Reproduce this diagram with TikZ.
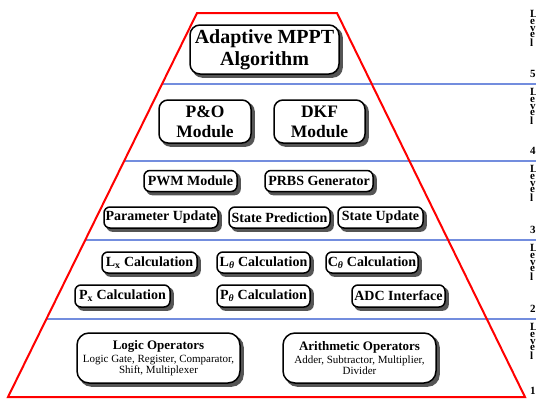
\documentclass[tikz,border=0pt]{standalone}
\usepackage{fontspec}
\setmainfont{Liberation Serif}
\usetikzlibrary{calc,backgrounds}
\definecolor{pyrred}{RGB}{255,0,0}
\definecolor{lvlblue}{RGB}{40,80,205}
\definecolor{shadowgray}{RGB}{85,85,85}
\tikzset{
  box/.style={draw=black, line width=1.5pt, fill=white, rounded corners=6pt,
    inner sep=1pt, align=center},
  smallbox/.style={box, font=\bfseries\fontsize{14}{15}\selectfont, minimum height=21pt},
  midbox/.style={box, rounded corners=9pt, font=\bfseries\fontsize{17.5}{20}\selectfont, minimum height=43pt},
  opbox/.style={box, rounded corners=12pt, minimum height=50pt, font=\fontsize{11}{10.5}\selectfont},
  boxshadow/.style={fill=shadowgray},
  lvl/.style={anchor=north west, inner sep=0pt, align=left, font=\bfseries\fontsize{11}{6.8}\selectfont},
  lvlnum/.style={anchor=base west, inner sep=0pt, font=\bfseries\fontsize{11}{11}\selectfont},
  bandline/.style={draw=lvlblue, line width=1.4pt},
  pyr/.style={draw=pyrred, line width=2pt}
}
\begin{document}
\begin{tikzpicture}[x=1pt,y=-1pt]
\useasboundingbox (0,0) rectangle (536,399);
% pyramid corners
\coordinate (T1) at (197,13);
\coordinate (T2) at (337,13);
\coordinate (T3) at (525,397);
\coordinate (T4) at (8,397);
% band line ends
\coordinate (E1) at (536,84);
\coordinate (E2) at (536,161);
\coordinate (E3) at (536,240);
\coordinate (E4) at (536,319);
\coordinate (S1) at ($(T1)!0.1849!(T4)$);
\coordinate (S2) at ($(T1)!0.3854!(T4)$);
\coordinate (S3) at ($(T1)!0.5911!(T4)$);
\coordinate (S4) at ($(T1)!0.7969!(T4)$);
\draw[bandline] (S1) -- (E1);
\draw[bandline] (S2) -- (E2);
\draw[bandline] (S3) -- (E3);
\draw[bandline] (S4) -- (E4);
\draw[pyr] (T1) -- (T2) -- (T3) -- (T4) -- cycle;

% Level 5
\node[box, rounded corners=10pt, font=\bfseries\fontsize{20}{22}\selectfont,
  minimum width=149pt, minimum height=49pt] (mppt) at (264.5,49.5) {Adaptive MPPT\\Algorithm};
% Level 4
\node[midbox, minimum width=92pt] (po) at (205,121.5) {P\&O\\Module};
\node[midbox, minimum width=91pt] (dkf) at (319.5,121.5) {DKF\\Module};
% Level 3
\node[smallbox, minimum width=93pt] (pwm) at (190.5,181) {PWM Module};
\node[smallbox, minimum width=108pt] (prbs) at (319,181) {PRBS Generator};
\node[smallbox, minimum width=114pt] (par) at (161,217.5) {Parameter Update};
\node[smallbox, minimum width=101pt] (spred) at (279.5,217.5) {State Prediction};
\node[smallbox, minimum width=85pt] (supd) at (380.5,217.5) {State Update};
% Level 2
\node[smallbox, minimum width=95pt] (lx) at (149.5,262.5) {L\textsubscript{x} Calculation};
\node[smallbox, minimum width=93pt] (lt) at (263.5,262.5) {L\textsubscript{\textit{θ}} Calculation};
\node[smallbox, minimum width=92pt] (ct) at (372,262.5) {C\textsubscript{\textit{θ}} Calculation};
\node[smallbox, minimum width=95pt, minimum height=22pt] (px) at (122.5,296) {P\textsubscript{x} Calculation};
\node[smallbox, minimum width=93pt, minimum height=22pt] (pt) at (263.5,296) {P\textsubscript{\textit{θ}} Calculation};
\node[smallbox, minimum width=93pt, minimum height=22pt] (adc) at (398.5,296) {ADC Interface};
% Level 1
\node[opbox, minimum width=163pt] (logic) at (158.5,358)
  {{\bfseries\fontsize{13}{14}\selectfont Logic Operators}\\[3pt]
   Logic Gate, Register, Comparator,\\Shift, Multiplexer};
\node[opbox, minimum width=153pt] (arith) at (359.5,358)
  {{\bfseries\fontsize{13}{14}\selectfont Arithmetic Operators}\\[3pt]
   Adder, Subtractor, Multiplier,\\Divider};

% drop shadows behind the boxes
\begin{pgfonlayer}{background}
\foreach \nn/\rr in {mppt/10, po/9, dkf/9, pwm/6, prbs/6, par/6, spred/6, supd/6,
                     lx/6, lt/6, ct/6, px/6, pt/6, adc/6, logic/12, arith/12} {
  \fill[boxshadow, rounded corners=\rr pt]
    ($(\nn.south west)+(3,3)$) rectangle ($(\nn.north east)+(3,3)$);
}
\end{pgfonlayer}

% level labels (cut by the right edge)
\foreach \n/\t/\b in {5/6/84, 4/84/161, 3/161/240, 2/240/319, 1/319/401} {
  \node[lvl, name=lv\n] at (530,\t+4) {L\\e\\v\\e\\l};
  \node[lvlnum, name=num\n] at (530,\b-7) {\n};
}
\end{tikzpicture}
\end{document}
